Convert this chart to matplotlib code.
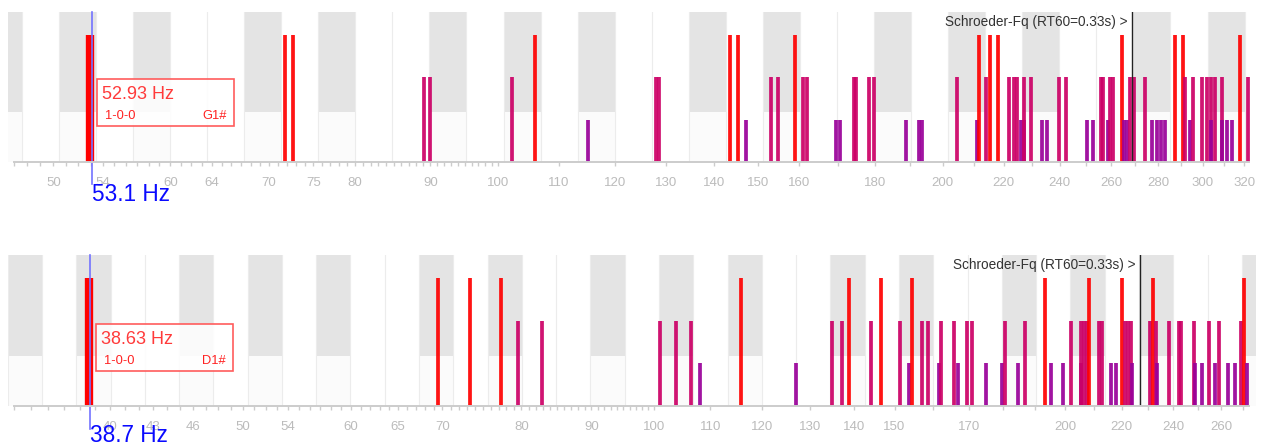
import numpy as np
import matplotlib
matplotlib.use('Agg')
import matplotlib.pyplot as plt
import matplotlib.transforms as mtransforms
from matplotlib.patches import Rectangle
from matplotlib.ticker import NullFormatter

plt.rcParams['font.family'] = ['Liberation Sans', 'DejaVu Sans']

# ---- room 1 (top) ----
TOP_AXIAL = [52.93, 71.77, 72.63, 105.87, 143.5, 145.3, 158.8, 211.8, 215.2, 218.1,
             264.5, 287.2, 290.8, 317.8]
TOP_TANGENTIAL = [89.15, 89.91, 102.17, 127.9, 128.5, 153.0, 154.7, 160.8, 162.0, 174.1,
                  174.8, 178.3, 179.7, 204.4, 214.1, 221.9, 223.4, 224.5, 227.2, 229.7,
                  239.9, 242.5, 255.9, 256.8, 259.8, 261.0, 267.7, 269.7, 274.3, 292.0,
                  295.7, 299.7, 301.8, 303.7, 305.6, 309.2, 321.8]
TOP_OBLIQUE = [115.0, 147.1, 169.4, 170.4, 188.8, 192.7, 193.7, 211.1, 226.1, 226.9,
               233.5, 235.4, 250.6, 252.7, 258.7, 265.2, 266.8, 277.2, 279.4, 281.1,
               282.9, 294.3, 304.1, 309.4, 311.8, 314.0]
TOP_TICKS = [50, 54, 60, 64, 70, 75, 80, 90, 100, 110, 120, 130, 140, 150, 160,
             180, 200, 220, 240, 260, 280, 300, 320]
TOP_XLIM = (46.59, 326.0)
TOP_SELECTED = 52.93
TOP_CURSOR = 53.1
TOP_SCHROEDER = 268.6
TOP_BOX = ('52.93 Hz', '1-0-0', 'G1#')

# ---- room 2 (bottom) ----
BOT_AXIAL = [38.63, 69.45, 73.30, 77.25, 115.86, 138.96, 146.65, 154.59, 193.25, 208.2,
             220.0, 231.7, 270.45]
BOT_TANGENTIAL = [79.47, 82.86, 100.95, 103.88, 106.5, 135.1, 137.2, 144.2, 151.5, 157.0,
                  158.7, 162.3, 165.7, 169.5, 171.0, 180.75, 186.9, 202.0, 205.4, 206.4,
                  207.4, 211.8, 212.9, 221.0, 222.3, 223.6, 230.8, 232.9, 238.0, 242.2,
                  243.2, 248.6, 254.8, 259.3, 269.0]
BOT_OBLIQUE = [108.1, 127.15, 153.7, 161.7, 166.8, 175.0, 179.7, 184.6, 195.2, 199.3,
               205.3, 216.2, 217.9, 223.8, 233.6, 248.9, 252.0, 257.6, 262.9, 266.0, 271.5]
BOT_TICKS = [40, 43, 46, 50, 54, 60, 65, 70, 80, 90, 100, 110, 120, 130, 140, 150,
             170, 200, 220, 240, 260]
BOT_XLIM = (33.68, 275.8)
BOT_SELECTED = 38.63
BOT_CURSOR = 38.7
BOT_SCHROEDER = 226.8
BOT_BOX = ('38.63 Hz', '1-0-0', 'D1#')

SCHROEDER_LABEL = 'Schroeder-Fq (RT60=0.33s) >'

RED = '#ff0000'
MAGENTA = '#cc0066'
PURPLE = '#990099'
YMAX = 3.54

W, H = 1263, 448


def fx(px):
    return px / W


def fy(py):
    return 1 - py / H


def draw_keys(ax, lo, hi):
    # piano keyboard background, one band per semitone
    for m in range(12, 80):
        f = 440 * 2 ** ((m - 69) / 12)
        a, b = f * 2 ** (-1 / 24), f * 2 ** (1 / 24)
        if b < lo or a > hi:
            continue
        if m % 12 in (1, 3, 6, 8, 10):
            ax.axvspan(a, b, ymin=1 / 3, ymax=1, color='#e4e4e4', lw=0, zorder=0)
            ax.axvspan(a, b, ymin=0, ymax=1 / 3, color='#fbfbfb', lw=0, zorder=0)
        ax.axvline(a, color='#ececec', lw=0.8, zorder=0.5)


def draw_panel(ax, xlim, ticks, axial, tangential, oblique, selected, cursor, schroeder,
               box, box_px, cursor_y):
    ax.set_xscale('log')
    ax.set_xlim(*xlim)
    ax.set_ylim(0, YMAX)
    for s in ax.spines.values():
        s.set_visible(False)
    draw_keys(ax, *xlim)

    freqs = np.array(axial + tangential + oblique)
    heights = np.array([3] * len(axial) + [2] * len(tangential) + [1] * len(oblique))
    cols = np.array([RED] * len(axial) + [MAGENTA] * len(tangential) + [PURPLE] * len(oblique))
    order = np.argsort(freqs)
    ax.vlines(freqs[order], 0, heights[order], colors=list(cols[order]), lw=2.7,
              capstyle='butt', alpha=0.92, zorder=3)
    ax.vlines([selected], 0, 3, colors=RED, lw=6.0, capstyle='butt', zorder=4)

    # schroeder frequency
    ax.axvline(schroeder, color='#222222', lw=1.0, zorder=5)
    off = mtransforms.ScaledTranslation(-4 / 100, 0, ax.figure.dpi_scale_trans)
    ax.text(schroeder, 0.905, SCHROEDER_LABEL, transform=ax.get_xaxis_transform() + off,
            ha='right', va='baseline', fontsize=9.8, color='#333333', zorder=6)

    # cursor
    ax.axvline(cursor, ymin=-0.15, ymax=1, clip_on=False, color='#7373ff', lw=1.2, zorder=6)
    ax.text(cursor, cursor_y, f'{cursor} Hz', transform=ax.get_xaxis_transform(),
            ha='left', va='baseline', fontsize=16.3, color='#0a0aff')

    # axis
    ax.axhline(0, xmin=6 / 1248, xmax=1241 / 1248, color='#cccccc', lw=1.4, clip_on=False, zorder=6)
    minor = [v for v in range(int(np.ceil(xlim[0])), 100) if v not in ticks]
    minor += [v for v in range(100, int(xlim[1]), 10) if v not in ticks]
    ax.set_xticks(ticks)
    ax.set_xticklabels([str(t) for t in ticks])
    ax.set_xticks(minor, minor=True)
    ax.xaxis.set_minor_formatter(NullFormatter())
    ax.tick_params(axis='x', which='both', direction='out', color='#cccccc',
                   labelcolor='#bbbbbb', labelsize=9.5, pad=7.5, length=3, width=1)
    ax.set_yticks([])

    # info box of the selected mode
    x0, y0 = box_px
    fig = ax.figure
    fig.add_artist(Rectangle((fx(x0), fy(y0 + 47)), 137 / W, 47 / H, transform=fig.transFigure,
                             facecolor=(1, 1, 1, 0.85), edgecolor='#ff5c5c', lw=1.2, zorder=5))
    fig.text(fx(x0 + 5), fy(y0 + 20), box[0], fontsize=13, color='#ff3a3a', va='baseline', zorder=6)
    fig.text(fx(x0 + 8), fy(y0 + 40), box[1], fontsize=9.3, color='#ff2222', va='baseline', zorder=6)
    fig.text(fx(x0 + 130), fy(y0 + 40), box[2], fontsize=9.3, color='#ff2222', va='baseline',
             ha='right', zorder=6)


fig = plt.figure(figsize=(W / 100, H / 100), dpi=100)
ax_top = fig.add_axes([fx(8), fy(162), 1248 / W, 150 / H])
ax_bot = fig.add_axes([fx(8), fy(406), 1248 / W, 151 / H])

draw_panel(ax_top, TOP_XLIM, TOP_TICKS, TOP_AXIAL, TOP_TANGENTIAL, TOP_OBLIQUE,
           TOP_SELECTED, TOP_CURSOR, TOP_SCHROEDER, TOP_BOX, (97, 79), -0.263)
draw_panel(ax_bot, BOT_XLIM, BOT_TICKS, BOT_AXIAL, BOT_TANGENTIAL, BOT_OBLIQUE,
           BOT_SELECTED, BOT_CURSOR, BOT_SCHROEDER, BOT_BOX, (96, 324), -0.24)

fig.savefig('out.png', dpi=100)
